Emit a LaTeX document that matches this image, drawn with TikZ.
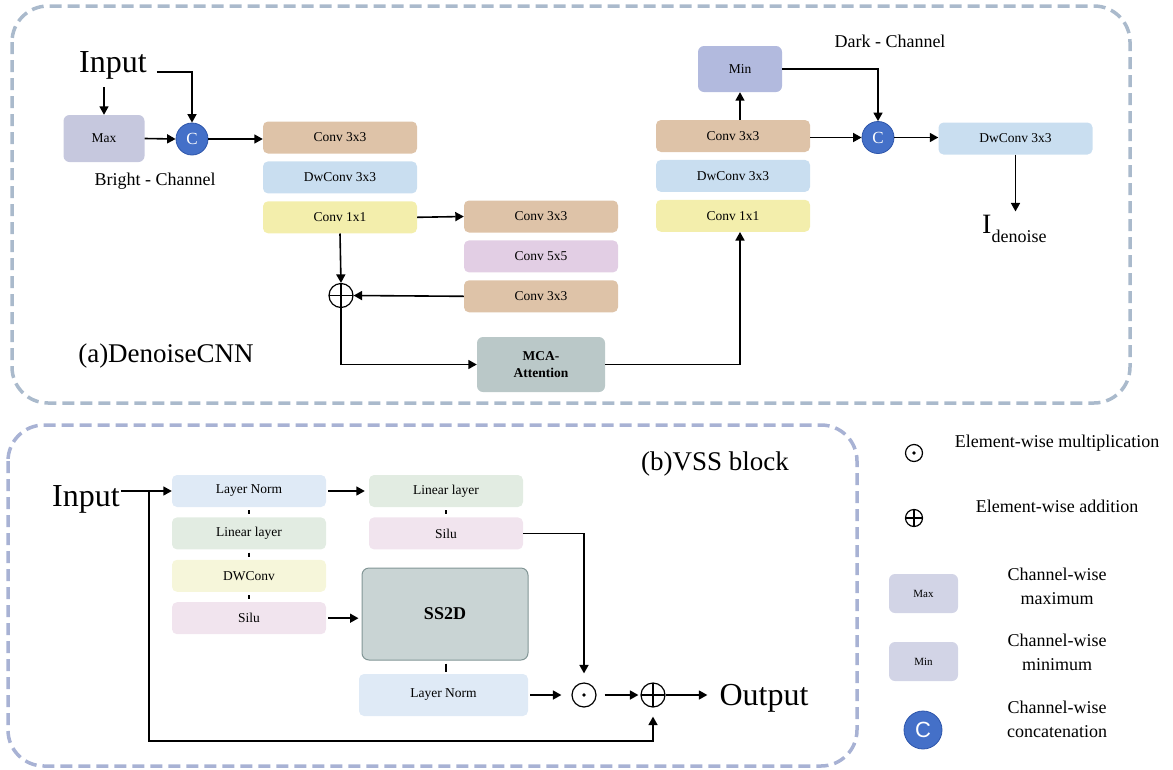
\documentclass[tikz,border=0pt]{standalone}
\usepackage{fontspec}
\setmainfont{Liberation Serif}
\newfontfamily\legsans{Liberation Sans}
\usepackage{tikz}
\usetikzlibrary{arrows.meta,positioning,calc}
\definecolor{convTan}   {RGB}{222,195,168}
\definecolor{dwBlue}    {RGB}{201,222,240}
\definecolor{oneYellow} {RGB}{243,238,172}
\definecolor{fiveLilac} {RGB}{226,206,228}
\definecolor{mcaGray}   {RGB}{186,200,200}
\definecolor{maxLilac}  {RGB}{198,200,222}
\definecolor{minLilac}  {RGB}{178,186,222}
\definecolor{legLilac}  {RGB}{210,212,230}
\definecolor{catBlue}   {RGB}{68,112,200}
\definecolor{catEdge}   {RGB}{45,85,170}
\definecolor{lnBlue}    {RGB}{223,234,246}
\definecolor{linGreen}  {RGB}{226,236,226}
\definecolor{dwcYellow} {RGB}{246,246,218}
\definecolor{siluPink}  {RGB}{241,228,238}
\definecolor{ssGray}    {RGB}{201,212,212}
\definecolor{ssEdge}    {RGB}{130,150,150}
\definecolor{frameA}    {RGB}{170,186,204}
\definecolor{frameB}    {RGB}{168,178,212}

\tikzset{
  blk/.style={rounded corners=5pt,minimum width=154pt,minimum height=32pt,
    inner sep=0pt,font=\fontsize{13.5}{15}\selectfont},
  arr/.style={-{Triangle[length=8.5pt,width=9pt]},line width=1.6pt},
  tick/.style={line width=1.8pt},
  catnode/.style={circle,fill=catBlue,draw=catEdge,line width=0.8pt,
    minimum size=32pt,inner sep=0pt,text=white,font=\fontsize{17}{17}\selectfont},
  opnode/.style={circle,draw,line width=1.2pt,minimum size=24pt,inner sep=0pt,
    path picture={\draw[line width=1.2pt]
      (path picture bounding box.north) -- (path picture bounding box.south)
      (path picture bounding box.west) -- (path picture bounding box.east);}},
  dotnode/.style={circle,draw,line width=1.2pt,minimum size=24pt,inner sep=0pt,
    path picture={\fill (path picture bounding box.center) circle (1.8pt);}},
  frm/.style={line width=3.5pt,dash pattern=on 12pt off 6pt,rounded corners=36pt},
  lbl/.style={font=\fontsize{18}{24}\selectfont,inner sep=0pt},
  big/.style={font=\fontsize{32}{34}\selectfont,inner sep=0pt},
  ttl/.style={font=\fontsize{27}{30}\selectfont,inner sep=0pt}
}

\begin{document}
\begin{tikzpicture}[x=1pt,y=-1pt]
  \useasboundingbox (0,0) rectangle (1173,769);

  % frames
  \draw[frm,frameA] (12,6) rectangle (1130,403);
  \draw[frm,frameB] (8,425) rectangle (857,766);

  % (a) DenoiseCNN -- bright channel
  \node[big,anchor=base] (inA) at (113,72) {Input};
  \node[fill=maxLilac,rounded corners=6pt,minimum width=81pt,minimum height=47pt,
        font=\fontsize{13.5}{15}\selectfont] (maxA) at (104,138.5) {Max};
  \node[catnode] (catA) at (192,139) {C};
  \node[lbl,anchor=base] (bright) at (155,185) {Bright - Channel};

  \node[blk,fill=convTan] (c33a) at (340,137.5) {Conv 3x3};
  \node[blk,fill=dwBlue,below=7.5pt of c33a] (dwa) {DwConv 3x3};
  \node[blk,fill=oneYellow,below=7.5pt of dwa] (c11a) {Conv 1x1};

  \node[blk,fill=convTan] (c33b) at (541,216.5) {Conv 3x3};
  \node[blk,fill=fiveLilac,below=7.5pt of c33b] (c55) {Conv 5x5};
  \node[blk,fill=convTan,below=7.5pt of c55] (c33c) {Conv 3x3};

  \node[opnode] (addA) at (341,295.5) {};
  \node[fill=mcaGray,rounded corners=6pt,minimum width=128pt,minimum height=55pt,
        align=center,font=\bfseries\fontsize{13.5}{17}\selectfont] (mca) at (541,364.5)
        {MCA-\\Attention};
  \node[ttl,anchor=base] (titA) at (166,362) {(a)DenoiseCNN};

  % dark channel
  \node[blk,fill=convTan] (c33d) at (733,136) {Conv 3x3};
  \node[blk,fill=dwBlue,below=7.5pt of c33d] (dwd) {DwConv 3x3};
  \node[blk,fill=oneYellow,below=7.5pt of dwd] (c11d) {Conv 1x1};
  \node[fill=minLilac,rounded corners=6pt,minimum width=84pt,minimum height=46pt,
        font=\fontsize{13.5}{15}\selectfont] (minA) at (740,69) {Min};
  \node[lbl,anchor=base] (dark) at (890,47) {Dark - Channel};
  \node[catnode] (catB) at (878,137.5) {C};
  \node[blk,fill=dwBlue] (dwe) at (1015.5,138.5) {DwConv 3x3};
  \node[anchor=base west,inner sep=0pt,font=\fontsize{28}{30}\selectfont] (iden) at (982,233)
        {I\raisebox{-9pt}{\fontsize{18}{20}\selectfont denoise}};

  \draw[arr] ([yshift=-8pt]inA.south -| maxA.north) -- (maxA.north);
  \draw[arr] ([xshift=10pt]inA.base east) -| (catA.north);
  \draw[arr] (maxA.east) -- (catA.west);
  \draw[arr] (catA.east) -- (catA.east -| c33a.west);
  \draw[arr] (c11a.east) -- (c33b.west);
  \draw[arr] (c11a.south) -- (addA.north);
  \draw[arr] (c33c.west) -- (addA.east);
  \draw[arr] (addA.south) |- (mca.west);
  \draw[arr] (mca.east) -| (c11d.south -| minA.south);
  \draw[arr] (c33d.north -| minA.south) -- (minA.south);
  \draw[arr] (minA.east) -| (catB.north);
  \draw[arr] (c33d.east |- catB.west) -- (catB.west);
  \draw[arr] (catB.east) -- (catB.east -| dwe.west);
  \draw[arr] (dwe.south) -- ([yshift=3pt]dwe.south |- iden.north);

  % (b) VSS block
  \node[big,anchor=base] (inB) at (86,506) {Input};
  \node[blk,fill=lnBlue] (ln1) at (249,491) {Layer Norm};
  \node[blk,fill=linGreen,below=10pt of ln1] (lin1) {Linear layer};
  \node[blk,fill=dwcYellow,below=10pt of lin1] (dwc) {DWConv};
  \node[blk,fill=siluPink,below=10pt of dwc] (silu1) {Silu};
  \node[blk,fill=linGreen] (lin2) at (446,491) {Linear layer};
  \node[blk,fill=siluPink,below=10pt of lin2] (silu2) {Silu};
  \node[fill=ssGray,draw=ssEdge,line width=1pt,rounded corners=7pt,minimum width=166pt,
        minimum height=92pt,font=\bfseries\fontsize{18}{20}\selectfont] (ss2d) at (445,614) {SS2D};
  \node[blk,fill=lnBlue,minimum width=169pt,minimum height=42pt] (ln2) at (443.5,695) {Layer Norm};
  \node[dotnode] (mul) at (584,695) {};
  \node[opnode] (add) at (653,695) {};
  \node[big,anchor=base] (out) at (764,705) {Output};
  \node[ttl,anchor=base] (titB) at (715,470) {(b)VSS block};

  \coordinate (sp) at (149,491);
  \coordinate (spb) at (149,741);
  \draw[arr] ([xshift=1pt]inB.east |- ln1.west) -- (ln1.west);
  \draw[arr] (sp) -- (spb) -| ([yshift=-9pt]add.south);
  \draw[tick] ([yshift=-3pt]ln1.south) -- ([yshift=3pt]lin1.north);
  \draw[tick] ([yshift=-3pt]lin1.south) -- ([yshift=3pt]dwc.north);
  \draw[tick] ([yshift=-3pt]dwc.south) -- ([yshift=3pt]silu1.north);
  \draw[tick] ([yshift=-3pt]lin2.south) -- ([yshift=3pt]silu2.north);
  \draw[tick] ([yshift=-3pt]ss2d.south -| lin2.south) -- ([yshift=2pt]ln2.north -| lin2.south);
  \draw[arr,shorten <=2pt,shorten >=4pt] (ln1.east) -- (lin2.west);
  \draw[arr,shorten <=2pt,shorten >=3pt] (silu1.east) -- (silu1.east -| ss2d.west);
  \draw[arr,shorten >=9pt] (silu2.east) -| (mul.north);
  \draw[arr,shorten <=2pt,shorten >=10pt] (ln2.east) -- (mul.west);
  \draw[arr,shorten <=8pt,shorten >=2pt] (mul.east) -- (add.west);
  \draw[arr,shorten >=12pt] (add.east) -- (add.east -| out.west);

  % legend
  \node[dotnode,minimum size=17pt] (lmul) at (914,453) {};
  \node[lbl,anchor=base] (tmul) at (1057,447) {Element-wise multiplication};
  \node[opnode,minimum size=17pt] (ladd) at (914,518) {};
  \node[lbl,anchor=base] (tadd) at (1057,512) {Element-wise addition};
  \node[fill=legLilac,rounded corners=6pt,minimum width=69pt,minimum height=39pt,
        font=\fontsize{11}{12}\selectfont] (lmax) at (923.5,593.5) {Max};
  \node[lbl,align=center] (tmax) at (1057,586) {Channel-wise\\maximum};
  \node[fill=legLilac,rounded corners=6pt,minimum width=69pt,minimum height=39pt,
        font=\fontsize{11}{12}\selectfont] (lmin) at (923.5,661.5) {Min};
  \node[lbl,align=center] (tmin) at (1057,652) {Channel-wise\\minimum};
  \node[catnode,minimum size=38pt,font=\legsans\fontsize{22}{22}\selectfont] (lcat) at (923,730) {C};
  \node[lbl,align=center] (tcat) at (1057,719) {Channel-wise\\concatenation};
\end{tikzpicture}
\end{document}
